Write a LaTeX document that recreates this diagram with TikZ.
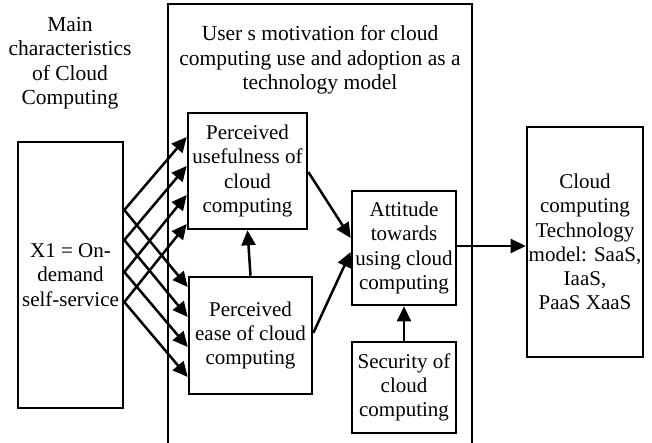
\documentclass[tikz,border=0pt]{standalone}
\usepackage{fontspec}
\setmainfont{Liberation Serif}
\usetikzlibrary{arrows.meta,calc}
\begin{document}
\begin{tikzpicture}[x=1pt,y=-1pt,
  every node/.style={font=\fontsize{21}{24.3}\selectfont, align=center},
  box/.style={draw, line width=2.6pt, inner sep=0pt, anchor=center},
  conn/.style={line width=2.5pt, -{Triangle[length=15pt,width=14pt]}},
  lbl/.style={inner sep=0pt, font=\fontsize{21.5}{24.5}\selectfont}]
\useasboundingbox (0,0) rectangle (652,443);

% frame of the motivation group (open at the bottom)
\draw[line width=2.6pt] (168,443) -- (168,4) -- (472,4) -- (472,443);

% headings
\node[lbl] (head1) at (70,63) {Main\\characteristics\\of Cloud\\Computing};
\node[lbl] (head2) at (320,60) {User s motivation for cloud\\computing use and adoption as a\\technology model};

% boxes
\node[box, minimum width=105pt, minimum height=266pt] (x1) at (70.5,275) {X1 = On-\\demand\\self-service};
\node[box, minimum width=119pt, minimum height=116pt] (pu) at (247.5,171) {Perceived\\usefulness of\\cloud\\computing};
\node[box, minimum width=123pt, minimum height=117pt] (pe) at (250.5,335.5) {Perceived\\ease of cloud\\computing};
\node[box, minimum width=104pt, minimum height=114pt] (att) at (404,248) {Attitude\\towards\\using cloud\\computing};
\node[box, minimum width=104pt, minimum height=91pt] (sec) at (404,387.5) {Security of\\cloud\\computing};
\node[box, minimum width=116pt, minimum height=230pt] (tm) at (585,242) {Cloud\\computing\\Technology\\model: SaaS,\\IaaS,\\PaaS XaaS};

% ports on the X1 box and on the two perception boxes
\foreach \i/\y in {1/210,2/240,3/272,4/302} {
  \coordinate (o\i) at (x1.east |- 0,\y);
}
\foreach \i/\y in {1/137,2/166,3/195,4/224} {
  \coordinate (u\i) at (pu.west |- 0,\y);
}
\foreach \i/\y in {1/287,2/317,3/347,4/377} {
  \coordinate (e\i) at (pe.west |- 0,\y);
}

% X1 feeds both perceptions
\foreach \i in {1,...,4} {
  \draw[conn] (o\i) -- (u\i);
  \draw[conn] (o\i) -- (e\i);
}

% model links
\draw[conn] (pe.north) -- (pu.south);
\draw[conn] (pu.east |- 0,172) -- (att.west |- 0,238);
\draw[conn] (pe.east |- 0,333) -- (att.west |- 0,252);
\draw[conn] (sec.north) -- (att.south);
\draw[conn] (att.east |- 0,246) -- (tm.west |- 0,246);
\end{tikzpicture}
\end{document}
